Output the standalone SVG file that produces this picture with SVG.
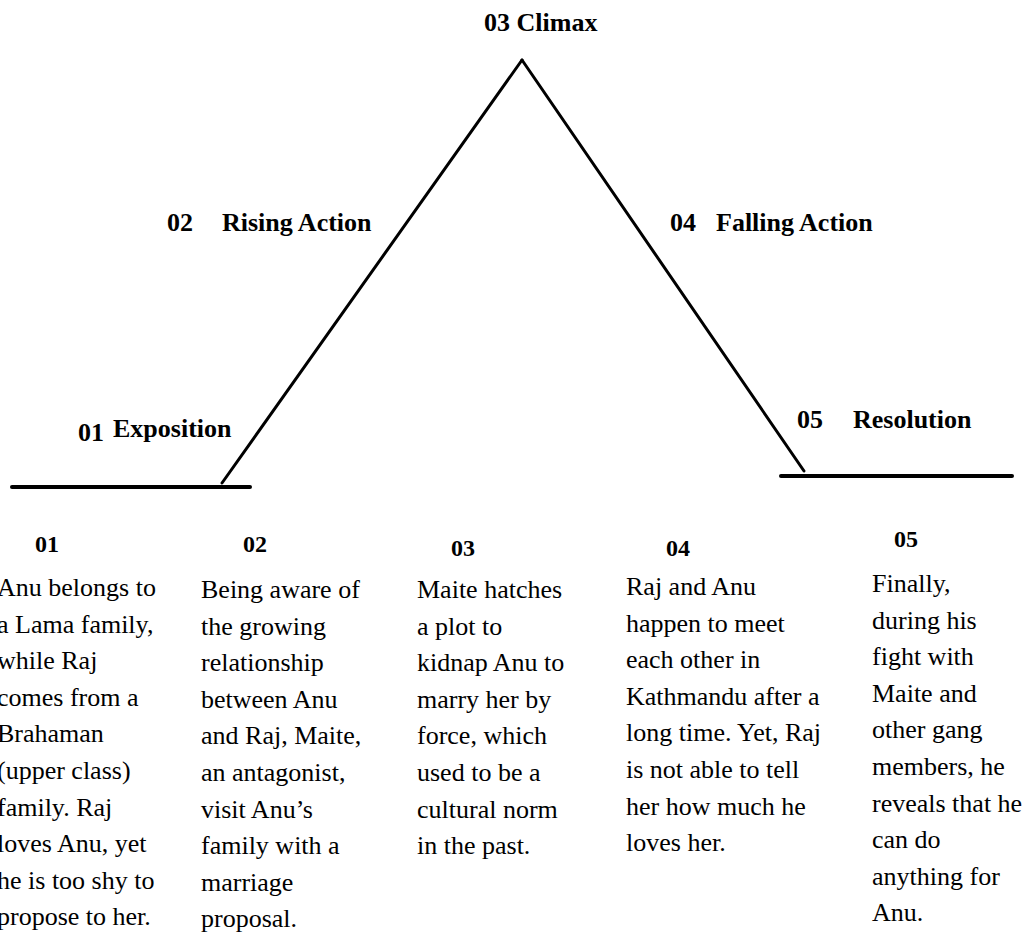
<svg xmlns="http://www.w3.org/2000/svg" width="1025" height="935" viewBox="0 0 1025 935" font-family="Times New Roman, Times, Liberation Serif, Tinos, Noto Serif, DejaVu Serif, FreeSerif, serif">
<style>
text{fill:#000}
.t{font-weight:bold;font-size:26px}
.b{font-size:26px}
.h{font-weight:bold;font-size:24px}
.ln{stroke:#000;stroke-width:3;fill:none;stroke-linecap:round}
.base{stroke:#000;stroke-width:4;fill:none;stroke-linecap:round}
</style>
<rect width="1025" height="935" fill="#fff"/>
<g id="connectors">
<line class="base" x1="12" y1="487" x2="250" y2="487"/>
<line class="ln" x1="222" y1="483" x2="522" y2="60"/>
<line class="ln" x1="522" y1="60" x2="804" y2="471"/>
<line class="base" x1="781" y1="476" x2="1012" y2="476"/>
</g>
<g id="climax"><text class="t" x="484" y="31">03 Climax</text></g>
<g id="rising"><text class="t" x="167" y="231">02</text><text class="t" x="222" y="231">Rising Action</text></g>
<g id="falling"><text class="t" x="670" y="231">04</text><text class="t" x="716" y="231">Falling Action</text></g>
<g id="exposition"><text class="t" x="78" y="441">01</text><text class="t" x="113" y="437">Exposition</text></g>
<g id="resolution"><text class="t" x="797" y="428">05</text><text class="t" x="853" y="428">Resolution</text></g>
<g id="col1">
<text class="h" x="35" y="552">01</text>
<text class="b" x="-3" y="596">
<tspan x="-3" dy="0">Anu belongs to</tspan>
<tspan x="-3" dy="36.6">a Lama family,</tspan>
<tspan x="-3" dy="36.6">while Raj</tspan>
<tspan x="-3" dy="36.6">comes from a</tspan>
<tspan x="-3" dy="36.6">Brahaman</tspan>
<tspan x="-3" dy="36.6">(upper class)</tspan>
<tspan x="-3" dy="36.6">family. Raj</tspan>
<tspan x="-3" dy="36.6">loves Anu, yet</tspan>
<tspan x="-3" dy="36.6">he is too shy to</tspan>
<tspan x="-3" dy="36.6">propose to her.</tspan>
</text>
</g>
<g id="col2">
<text class="h" x="243" y="552">02</text>
<text class="b" x="201" y="598">
<tspan x="201" dy="0">Being aware of</tspan>
<tspan x="201" dy="36.6">the growing</tspan>
<tspan x="201" dy="36.6">relationship</tspan>
<tspan x="201" dy="36.6">between Anu</tspan>
<tspan x="201" dy="36.6">and Raj, Maite,</tspan>
<tspan x="201" dy="36.6">an antagonist,</tspan>
<tspan x="201" dy="36.6">visit Anu’s</tspan>
<tspan x="201" dy="36.6">family with a</tspan>
<tspan x="201" dy="36.6">marriage</tspan>
<tspan x="201" dy="36.6">proposal.</tspan>
</text>
</g>
<g id="col3">
<text class="h" x="451" y="556">03</text>
<text class="b" x="417" y="598">
<tspan x="417" dy="0">Maite hatches</tspan>
<tspan x="417" dy="36.6">a plot to</tspan>
<tspan x="417" dy="36.6">kidnap Anu to</tspan>
<tspan x="417" dy="36.6">marry her by</tspan>
<tspan x="417" dy="36.6">force, which</tspan>
<tspan x="417" dy="36.6">used to be a</tspan>
<tspan x="417" dy="36.6">cultural norm</tspan>
<tspan x="417" dy="36.6">in the past.</tspan>
</text>
</g>
<g id="col4">
<text class="h" x="666" y="556">04</text>
<text class="b" x="626" y="595">
<tspan x="626" dy="0">Raj and Anu</tspan>
<tspan x="626" dy="36.6">happen to meet</tspan>
<tspan x="626" dy="36.6">each other in</tspan>
<tspan x="626" dy="36.6">Kathmandu after a</tspan>
<tspan x="626" dy="36.6">long time. Yet, Raj</tspan>
<tspan x="626" dy="36.6">is not able to tell</tspan>
<tspan x="626" dy="36.6">her how much he</tspan>
<tspan x="626" dy="36.6">loves her.</tspan>
</text>
</g>
<g id="col5">
<text class="h" x="894" y="547">05</text>
<text class="b" x="872" y="592">
<tspan x="872" dy="0">Finally,</tspan>
<tspan x="872" dy="36.6">during his</tspan>
<tspan x="872" dy="36.6">fight with</tspan>
<tspan x="872" dy="36.6">Maite and</tspan>
<tspan x="872" dy="36.6">other gang</tspan>
<tspan x="872" dy="36.6">members, he</tspan>
<tspan x="872" dy="36.6">reveals that he</tspan>
<tspan x="872" dy="36.6">can do</tspan>
<tspan x="872" dy="36.6">anything for</tspan>
<tspan x="872" dy="36.6">Anu.</tspan>
</text>
</g>
</svg>
